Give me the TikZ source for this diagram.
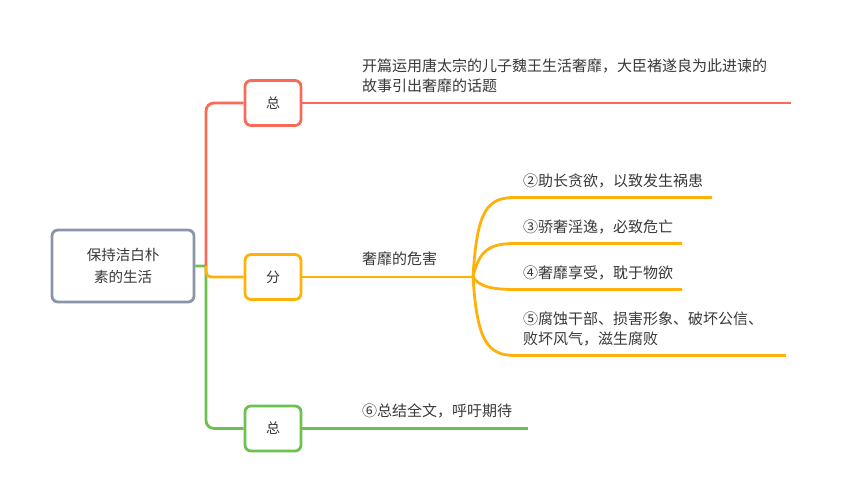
\documentclass[tikz,border=0pt]{standalone}
\usepackage{fontspec}
\setmainfont{Noto Sans CJK SC}
\usetikzlibrary{positioning}
\definecolor{rootgray}{HTML}{8A96A8}
\definecolor{zongred}{HTML}{F96B58}
\definecolor{fenorange}{HTML}{FFB10A}
\definecolor{zonggreen}{HTML}{6DC24F}
\definecolor{txtgray}{HTML}{383838}
\begin{document}
\begin{tikzpicture}[
    x=1pt, y=-1pt,
    rootbox/.style={draw=rootgray, line width=2.8pt, rounded corners=6pt, fill=white,
      minimum width=142pt, minimum height=72pt, align=center, text=txtgray,
      font=\fontsize{14.5pt}{22pt}\selectfont},
    topicbox/.style={line width=2.8pt, rounded corners=6pt, fill=white,
      minimum width=56pt, minimum height=45pt, text=txtgray,
      font=\fontsize{14pt}{16pt}\selectfont},
    lbl/.style={anchor=west, align=left, text=txtgray, inner sep=0pt,
      font=\fontsize{15pt}{20pt}\selectfont},
    redline/.style={zongred, line width=2.8pt},
    orangeline/.style={fenorange, line width=2.8pt},
    greenline/.style={zonggreen, line width=2.8pt},
  ]
\useasboundingbox (0,0) rectangle (841,502);

% root and the three topic boxes
\node[rootbox] (root) at (123,266) {保持洁白朴\\素的生活};
\node[topicbox, draw=zongred] (zongtop) at (273,103) {总};
\node[topicbox, draw=fenorange] (fen) at (273,277) {分};
\node[topicbox, draw=zonggreen] (zongbot) at (273,428.5) {总};

% trunk out of the root
\coordinate (trunk) at (206,266);
\draw[greenline] (root.east) -- (trunk) [rounded corners=8pt] |- (zongbot.west);
\draw[redline, rounded corners=8pt] (trunk) |- (zongtop.west);
\draw[orangeline, rounded corners=5pt] (trunk) |- (fen.west);

% first part
\coordinate (introend) at (791,103);
\draw[redline] (zongtop.east) -- (introend);
\node[lbl] (intro) at (362,76)
  {开篇运用唐太宗的儿子魏王生活奢靡，大臣褚遂良为此进谏的\\故事引出奢靡的话题};

% middle part with four sub-branches
\coordinate (split) at (473,277);
\draw[orangeline] (fen.east) -- (split);
\node[lbl] (harm) at (362,259) {奢靡的危害};

\coordinate (b2start) at (515,197.5);
\coordinate (b2end) at (712,197.5);
\coordinate (b3start) at (515,243.5);
\coordinate (b3end) at (682,243.5);
\coordinate (b4start) at (515,289.5);
\coordinate (b4end) at (682,289.5);
\coordinate (b5start) at (515,355.5);
\coordinate (b5end) at (786,355.5);
\draw[orangeline] (split) .. controls (477,210) and (487,197.5) .. (b2start) -- (b2end);
\draw[orangeline] (split) .. controls (479,250) and (490,243.5) .. (b3start) -- (b3end);
\draw[orangeline] (split) .. controls (479,286) and (490,289.5) .. (b4start) -- (b4end);
\draw[orangeline] (split) .. controls (477,340) and (487,355.5) .. (b5start) -- (b5end);

\node[lbl] (b2) at (523,181) {②助长贪欲，以致发生祸患};
\node[lbl] (b3) at (523,227) {③骄奢淫逸，必致危亡};
\node[lbl] (b4) at (523,273) {④奢靡享受，耽于物欲};
\node[lbl] (b5) at (523,329) {⑤腐蚀干部、损害形象、破坏公信、\\败坏风气，滋生腐败};

% last part
\coordinate (sumend) at (528,428.5);
\draw[greenline] (zongbot.east) -- (sumend);
\node[lbl] (summary) at (362,411) {⑥总结全文，呼吁期待};

\end{tikzpicture}
\end{document}
